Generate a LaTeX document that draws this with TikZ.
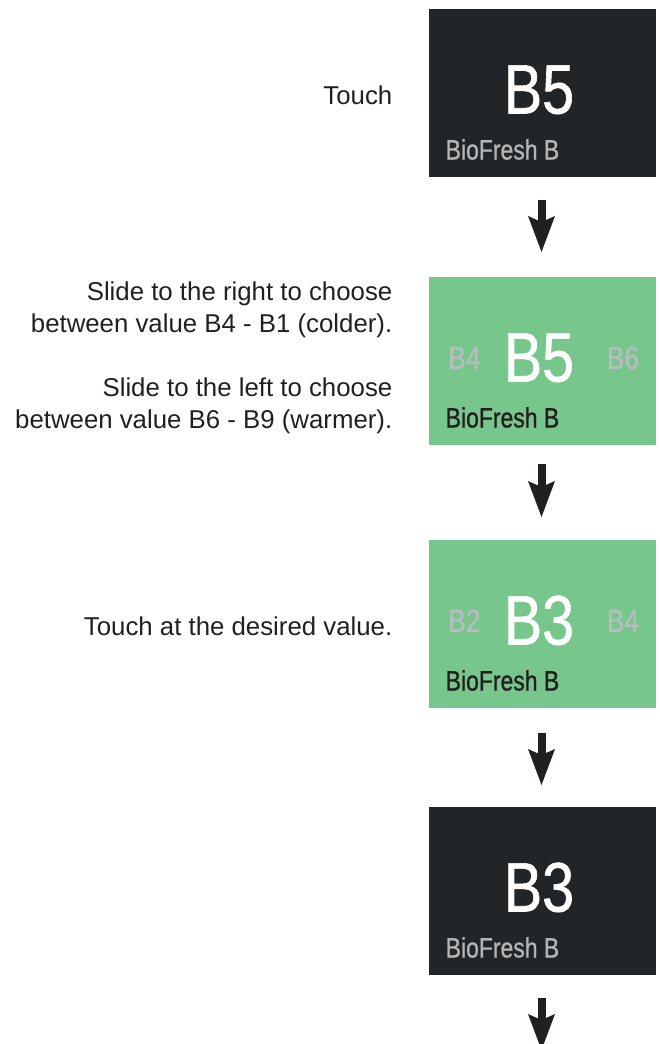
\documentclass[tikz,border=0pt]{standalone}
\usepackage{fontspec}
\setmainfont{Liberation Sans}
\newfontfamily\condfont[FakeStretch=0.82,FakeBold=0.9]{Liberation Sans}
\usetikzlibrary{arrows.meta,calc}
\definecolor{darkbox}{RGB}{34,37,39}
\definecolor{greenbox}{RGB}{119,198,139}
\definecolor{inkdark}{RGB}{35,31,32}
\definecolor{dimgrey}{RGB}{178,180,182}
\definecolor{sidegrey}{RGB}{185,188,192}
\begin{document}
\begin{tikzpicture}[x=1pt,y=-1pt,
  screen/.style={minimum width=227pt, minimum height=168pt, inner sep=0pt, outer sep=0pt, anchor=north west},
  darkscreen/.style={screen, fill=darkbox},
  greenscreen/.style={screen, fill=greenbox},
  bigval/.style={font=\condfont\fontsize{70}{70}\selectfont, text=white, anchor=base, inner sep=0pt},
  sideval/.style={font=\condfont\fontsize{32}{32}\selectfont, text=sidegrey, anchor=base, inner sep=0pt},
  zone/.style={font=\condfont\fontsize{28}{28}\selectfont, anchor=base west, inner sep=0pt},
  instr/.style={font=\fontsize{25.8}{32}\selectfont, text=inkdark, anchor=base east, align=right, inner sep=0pt},
  flow/.style={draw=inkdark, line width=8pt, -{Stealth[length=36pt, width=27pt, inset=6pt, line width=0pt]}},
]
\useasboundingbox (0,0) rectangle (660,1044);
\clip (0,0) rectangle (660,1044);

% screens
\node[darkscreen] (s1) at (429,9) {};
\node[greenscreen] (s2) at (429,277) {};
\node[greenscreen] (s3) at (429,540) {};
\node[darkscreen] (s4) at (429,807) {};

% screen 1
\node[bigval] (v1) at ($(s1.north west)+(110,104.5)$) {B5};
\node[zone, text=dimgrey] (z1) at ($(s1.north west)+(16.5,150.5)$) {BioFresh B};

% screen 2
\node[bigval] (v2) at ($(s2.north west)+(110,104.5)$) {B5};
\node[sideval] (l2) at ($(s2.north west)+(35.5,92)$) {B4};
\node[sideval] (r2) at ($(s2.north west)+(194,92)$) {B6};
\node[zone, text=inkdark] (z2) at ($(s2.north west)+(16.5,150.5)$) {BioFresh B};

% screen 3
\node[bigval] (v3) at ($(s3.north west)+(110,104.5)$) {B3};
\node[sideval] (l3) at ($(s3.north west)+(35.5,92)$) {B2};
\node[sideval] (r3) at ($(s3.north west)+(194,92)$) {B4};
\node[zone, text=inkdark] (z3) at ($(s3.north west)+(16.5,150.5)$) {BioFresh B};

% screen 4
\node[bigval] (v4) at ($(s4.north west)+(110,104.5)$) {B3};
\node[zone, text=dimgrey] (z4) at ($(s4.north west)+(16.5,150.5)$) {BioFresh B};

% instructions
\node[instr] (t1) at (392.5,104) {Touch};
\node[instr] (t2) at (392.5,428) {Slide to the right to choose\\between value B4 - B1 (colder).\\[32pt]Slide to the left to choose\\between value B6 - B9 (warmer).};
\node[instr] (t3) at (392.5,635) {Touch at the desired value.};

% arrows
\coordinate (a1s) at ($(s1.south)+(-1,23)$);
\coordinate (a1e) at ($(s1.south)+(-1,75)$);
\coordinate (a2s) at ($(s2.south)+(-1,19)$);
\coordinate (a2e) at ($(s2.south)+(-1,72)$);
\coordinate (a3s) at ($(s3.south)+(-1,25)$);
\coordinate (a3e) at ($(s3.south)+(-1,77)$);
\coordinate (a4s) at ($(s4.south)+(-1,23)$);
\coordinate (a4e) at ($(s4.south)+(-1,75)$);
\draw[flow] (a1s) -- (a1e);
\draw[flow] (a2s) -- (a2e);
\draw[flow] (a3s) -- (a3e);
\draw[flow] (a4s) -- (a4e);
\end{tikzpicture}
\end{document}
